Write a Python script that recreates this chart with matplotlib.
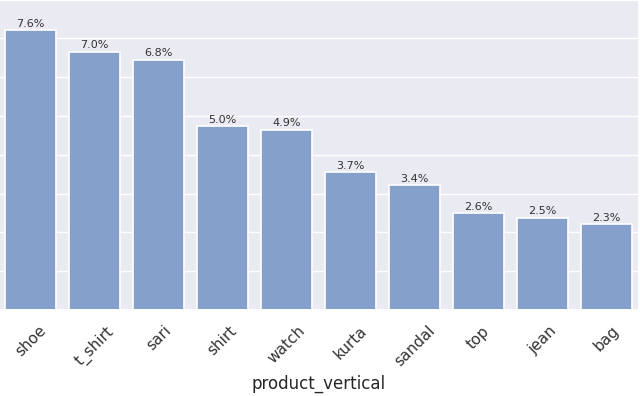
import matplotlib
matplotlib.use("Agg")
import matplotlib.pyplot as plt
import seaborn as sns
from matplotlib.ticker import MultipleLocator

# counts per product vertical, total rows
products = ['shoe', 't_shirt', 'sari', 'shirt', 'watch', 'kurta', 'sandal', 'top', 'jean', 'bag']
counts = [1444, 1332, 1290, 948, 929, 712, 645, 500, 475, 442]
total = 19000

sns.set_theme(style='darkgrid')
plt.rcParams['font.family'] = ['DejaVu Sans']

fig = plt.figure(figsize=(6.4, 3.96), dpi=100)
ax = fig.add_axes([-1.5 / 640, 86 / 396, 1.0, 320 / 396])

bars = ax.bar(range(len(products)), counts, width=0.8, color='#86a0cc',
              edgecolor='white', linewidth=1.2)

# percentage labels above bars
for b, c in zip(bars, counts):
    ax.annotate('{:.1f}%'.format(100 * c / total),
                (b.get_x() + b.get_width() / 2, b.get_height()),
                ha='center', va='bottom', fontsize=8, color='#333333',
                xytext=(0, 1), textcoords='offset points')

ax.set_xlim(-0.5, len(products) - 0.5)
ax.set_ylim(0, 1650)
ax.yaxis.set_major_locator(MultipleLocator(200))
ax.set_yticklabels([])
ax.xaxis.grid(False)
ax.set_xticks(range(len(products)))
ax.set_xticklabels(products, rotation=45, fontsize=11, color='#333333')
ax.set_xlabel('product_vertical', fontsize=12)
ax.set_ylabel('')

fig.savefig('out.png', dpi=100)
